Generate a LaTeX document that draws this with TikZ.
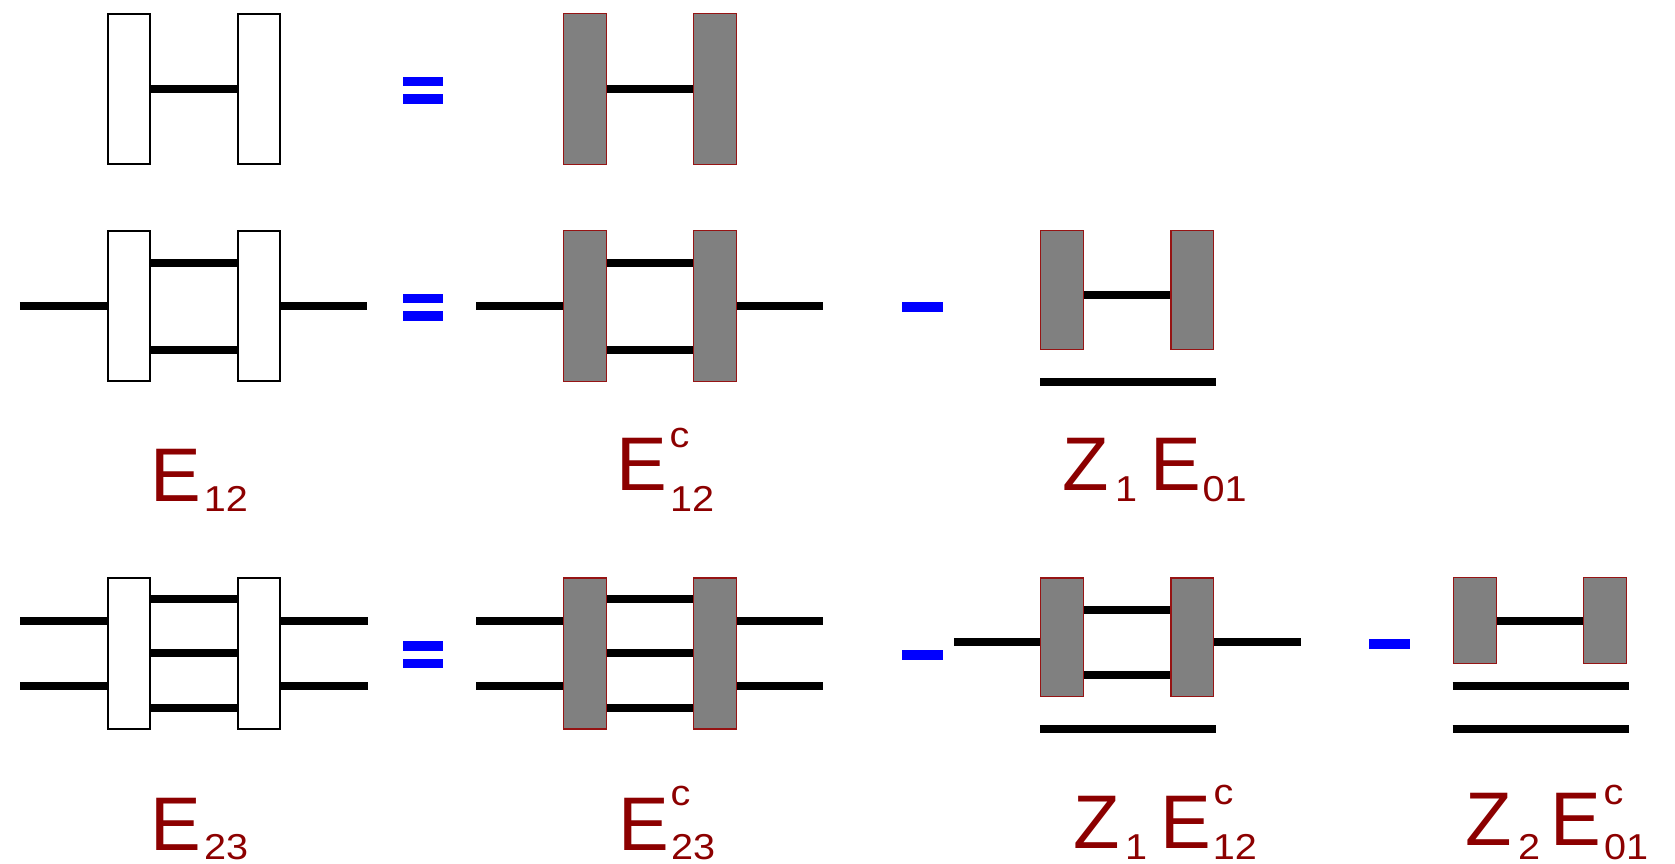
\documentclass[tikz,border=0pt]{standalone}
\usepackage{fontspec}
\setmainfont{Liberation Sans}
\newfontfamily\indexfont[FakeStretch=1.1]{Liberation Sans}
\usetikzlibrary{backgrounds}
\definecolor{lbl}{RGB}{140,0,0}
\definecolor{opblue}{RGB}{0,0,255}
\definecolor{edgered}{RGB}{150,20,20}
\definecolor{boxgray}{RGB}{128,128,128}

\begin{document}
\begin{tikzpicture}[x=1pt,y=-1pt,
  wbox/.style={draw=black,line width=2pt,fill=white,minimum width=42pt,inner sep=0pt,outer sep=0pt},
  gbox/.style={draw=edgered,line width=1.2pt,fill=boxgray,minimum width=42.8pt,inner sep=0pt,outer sep=0pt},
  wire/.style={line width=8.3pt},
  opbar/.style={fill=opblue,minimum width=40.6pt,minimum height=9.4pt,inner sep=0pt,outer sep=0pt},
  big/.style={anchor=base west,inner sep=0pt,outer sep=0pt,text=lbl,font=\fontsize{76}{76}\selectfont},
  small/.style={anchor=base west,inner sep=0pt,outer sep=0pt,text=lbl,font=\indexfont\fontsize{36}{36}\selectfont}]
\useasboundingbox (0,0) rectangle (1675,864);

% ---------------- row 1 ----------------
\node[wbox,minimum height=150.3pt] (a1) at (128.7,88.85) {};
\node[wbox,minimum height=150.3pt] (a2) at (259,88.85) {};
\node[opbar] (eq1a) at (423,81.3) {};
\node[opbar] (eq1b) at (423,99) {};
\node[gbox,minimum height=151.1pt] (b1) at (584.8,88.85) {};
\node[gbox,minimum height=151.1pt] (b2) at (714.9,88.85) {};
\begin{scope}[on background layer]
  \draw[wire] (a1.east |- 0,89) -- (a2.west |- 0,89);
  \draw[wire] (b1.east |- 0,89) -- (b2.west |- 0,89);
\end{scope}

% ---------------- row 2 ----------------
\node[wbox,minimum height=150.3pt] (c1) at (128.7,306.15) {};
\node[wbox,minimum height=150.3pt] (c2) at (259,306.15) {};
\node[opbar] (eq2a) at (423,298.3) {};
\node[opbar] (eq2b) at (423,316) {};
\node[gbox,minimum height=151.1pt] (d1) at (584.8,306.15) {};
\node[gbox,minimum height=151.1pt] (d2) at (714.9,306.15) {};
\node[opbar] (mi2) at (922.3,307) {};
\node[gbox,minimum height=118.5pt] (e1) at (1062.2,289.85) {};
\node[gbox,minimum height=118.5pt] (e2) at (1192.3,289.85) {};
\coordinate (c1in) at (19.9,306);
\coordinate (c2out) at (366.8,306);
\coordinate (d1in) at (476,306);
\coordinate (d2out) at (822.8,306);
\coordinate (eul) at (1040,382);
\coordinate (eur) at (1216.3,382);
\begin{scope}[on background layer]
  \draw[wire] (c1in) -- (c1.west |- c1in);
  \draw[wire] (c2.east |- c2out) -- (c2out);
  \draw[wire] (c1.east |- 0,262.7) -- (c2.west |- 0,262.7);
  \draw[wire] (c1.east |- 0,349.7) -- (c2.west |- 0,349.7);
  \draw[wire] (d1in) -- (d1.west |- d1in);
  \draw[wire] (d2.east |- d2out) -- (d2out);
  \draw[wire] (d1.east |- 0,262.7) -- (d2.west |- 0,262.7);
  \draw[wire] (d1.east |- 0,349.7) -- (d2.west |- 0,349.7);
  \draw[wire] (e1.east |- 0,295) -- (e2.west |- 0,295);
\end{scope}
\draw[wire] (eul) -- (eur);

% labels of row 2
\node[big] (lE12) at (150,501.7) {E};
\node[small] (lE12s) at (203.8,511.7) {12};
\node[big] (lEc12) at (616.7,490.7) {E};
\node[small] (lEc12c) at (669.6,447.3) {c};
\node[small] (lEc12s) at (670,511.7) {12};
\node[big] (lZa) at (1062.5,490.7) {Z};
\node[small] (lZas) at (1115,501.7) {1};
\node[big] (lE01) at (1150,490.7) {E};
\node[small] (lE01s) at (1202.5,501.7) {01};

% ---------------- row 3 ----------------
\node[wbox,minimum height=150.3pt] (f1) at (128.7,653.5) {};
\node[wbox,minimum height=150.3pt] (f2) at (259,653.5) {};
\node[opbar] (eq3a) at (423,645.8) {};
\node[opbar] (eq3b) at (423,663.3) {};
\node[gbox,minimum height=151.1pt] (g1) at (584.8,653.5) {};
\node[gbox,minimum height=151.1pt] (g2) at (714.9,653.5) {};
\node[opbar] (mi3a) at (922.5,655) {};
\node[gbox,minimum height=118.2pt] (h1) at (1062.2,637) {};
\node[gbox,minimum height=118.2pt] (h2) at (1192.3,637) {};
\node[opbar] (mi3b) at (1389.5,644) {};
\node[gbox,minimum height=85.5pt] (k1) at (1474.7,620.6) {};
\node[gbox,minimum height=85.5pt] (k2) at (1605,620.6) {};
\coordinate (f1up) at (20,620.7);
\coordinate (f1dn) at (20,686);
\coordinate (f2up) at (367.5,620.7);
\coordinate (f2dn) at (367.5,686);
\coordinate (g1up) at (476,620.7);
\coordinate (g1dn) at (476,686);
\coordinate (g2up) at (822.8,620.7);
\coordinate (g2dn) at (822.8,686);
\coordinate (h1in) at (954,642.3);
\coordinate (h2out) at (1301,642.3);
\coordinate (hul) at (1040,729.3);
\coordinate (hur) at (1216.3,729.3);
\coordinate (kal) at (1452.6,686);
\coordinate (kar) at (1629,686);
\coordinate (kbl) at (1452.6,729.3);
\coordinate (kbr) at (1629,729.3);
\begin{scope}[on background layer]
  \draw[wire] (f1up) -- (f1.west |- f1up);
  \draw[wire] (f1dn) -- (f1.west |- f1dn);
  \draw[wire] (f2.east |- f2up) -- (f2up);
  \draw[wire] (f2.east |- f2dn) -- (f2dn);
  \draw[wire] (f1.east |- 0,598.7) -- (f2.west |- 0,598.7);
  \draw[wire] (f1.east |- 0,653.3) -- (f2.west |- 0,653.3);
  \draw[wire] (f1.east |- 0,707.7) -- (f2.west |- 0,707.7);
  \draw[wire] (g1up) -- (g1.west |- g1up);
  \draw[wire] (g1dn) -- (g1.west |- g1dn);
  \draw[wire] (g2.east |- g2up) -- (g2up);
  \draw[wire] (g2.east |- g2dn) -- (g2dn);
  \draw[wire] (g1.east |- 0,598.7) -- (g2.west |- 0,598.7);
  \draw[wire] (g1.east |- 0,653.3) -- (g2.west |- 0,653.3);
  \draw[wire] (g1.east |- 0,707.7) -- (g2.west |- 0,707.7);
  \draw[wire] (h1in) -- (h1.west |- h1in);
  \draw[wire] (h2.east |- h2out) -- (h2out);
  \draw[wire] (h1.east |- 0,610) -- (h2.west |- 0,610);
  \draw[wire] (h1.east |- 0,675) -- (h2.west |- 0,675);
  \draw[wire] (k1.east |- 0,621) -- (k2.west |- 0,621);
\end{scope}
\draw[wire] (hul) -- (hur);
\draw[wire] (kal) -- (kar);
\draw[wire] (kbl) -- (kbr);

% labels of row 3
\node[big] (lE23) at (150,850) {E};
\node[small] (lE23s) at (204,859.5) {23};
\node[big] (lEc23) at (618,850) {E};
\node[small] (lEc23c) at (670.6,805) {c};
\node[small] (lEc23s) at (671,859.5) {23};
\node[big] (lZb) at (1073.5,848.3) {Z};
\node[small] (lZbs) at (1125,859.3) {1};
\node[big] (lEc12b) at (1160,848.3) {E};
\node[small] (lEc12bc) at (1213.6,804.3) {c};
\node[small] (lEc12bs) at (1212.8,859.3) {12};
\node[big] (lZc) at (1465,845) {Z};
\node[small] (lZcs) at (1518,859.3) {2};
\node[big] (lEc01) at (1550.7,845) {E};
\node[small] (lEc01c) at (1603.6,804) {c};
\node[small] (lEc01s) at (1604.2,859.3) {01};
\end{tikzpicture}
\end{document}
